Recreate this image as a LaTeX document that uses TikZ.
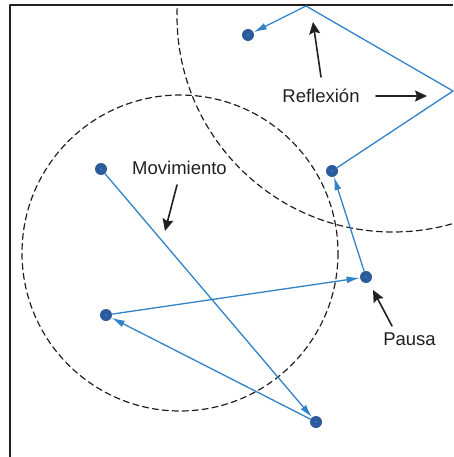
\documentclass[tikz,border=0pt]{standalone}
\usepackage{fontspec}
\setmainfont{Liberation Sans}
\usetikzlibrary{arrows.meta}
\definecolor{marco}{RGB}{35,31,32}
\definecolor{traza}{RGB}{50,130,200}
\definecolor{punto}{RGB}{45,90,155}
\begin{document}
\begin{tikzpicture}[x=1pt,y=-1pt,line join=round,line cap=round,>={Stealth[length=12pt,width=11pt,inset=2pt]},thick]
			\tikzset{every node/.style={font=\fontsize{18.5}{21}\selectfont,text=marco},
				pto/.style={circle,fill=punto,inner sep=0pt,minimum size=12pt,
					path picture={\fill[traza] (path picture bounding box.center) circle (1.2pt);}},
				tray/.style={draw=traza,line width=1.3pt,-{Latex[length=13pt,width=7pt]}},
				flecha/.style={draw=marco,line width=1.6pt,->}}
			\useasboundingbox (0,0) rectangle (453,457);
			\draw[marco,line width=2pt,line cap=butt] (10,457)--(10,5)--(453,5);
			\begin{scope}
				\clip (11,6) rectangle (453,457);
				\draw[marco,line width=1.2pt,dash pattern=on 6pt off 4pt] (180,253) circle (158);
				\draw[marco,line width=1.2pt,dash pattern=on 6pt off 4pt] (393,16) circle (216);
			\end{scope}
			% recorrido
			\coordinate (r1) at (453,91);
			\coordinate (r2) at (306,6);
			\foreach \n/\x/\y in {a/101/169,b/316/422,c/106/315,d/366/277,e/332/171,f/248/35}
			\node[pto] (\n) at (\x,\y) {};
			\draw[tray] (a)--(b);
			\draw[tray] (b)--(c);
			\draw[tray] (c)--(d);
			\draw[tray] (d)--(e);
			\draw[tray] (e)--(r1)--(r2)--(f);
			% etiquetas
			\node[anchor=base] (tmov) at (179.5,175) {Movimiento};
			\node[anchor=base] (tref) at (321,103) {Reflexión};
			\node[anchor=base] (tpau) at (409.5,345) {Pausa};
			\coordinate (hmov) at (165,231);
			\coordinate (href1) at (313,22);
			\coordinate (href2) at (427,96);
			\coordinate (hpau) at (373,290);
			\draw[flecha] ([shift={(-2.5,10)}]tmov.base)--(hmov);
			\draw[flecha] ([shift={(0,-26)}]tref.base)--(href1);
			\draw[flecha] ([shift={(55,-7)}]tref.base)--(href2);
			\draw[flecha] ([shift={(-17.5,-19)}]tpau.base)--(hpau);
		\end{tikzpicture}
\end{document}
